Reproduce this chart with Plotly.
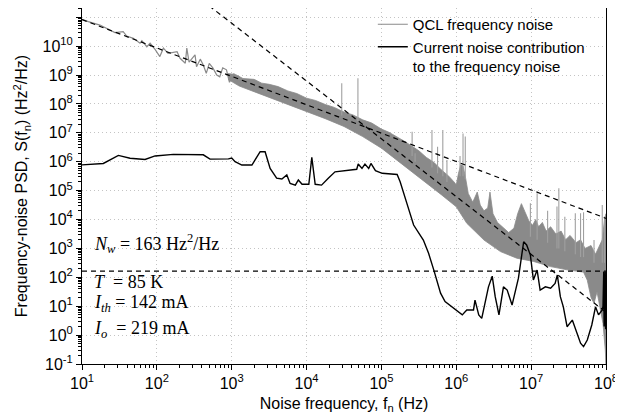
import numpy as np
import plotly.graph_objects as go

# ---------------- data (log10 of Hz, log10 of Hz^2/Hz) ----------------
# QCL frequency noise: low-frequency resolved part
qcl_lf_logf = [1.0, 1.084, 1.24, 1.44, 1.55, 1.597, 1.686, 1.775, 1.80, 1.866, 1.91, 1.976,
               2.04, 2.087, 2.15, 2.27, 2.31, 2.38, 2.40, 2.43, 2.51, 2.53, 2.58, 2.62, 2.66,
               2.70, 2.75, 2.80, 2.84, 2.88, 2.93, 2.97, 3.0, 3.03, 3.06, 3.09, 3.12]
qcl_lf_logs = [10.93, 10.85, 10.73, 10.47, 10.50, 10.35, 10.27, 10.10, 10.19, 9.98, 10.10, 9.89,
               9.64, 9.93, 9.75, 9.81, 9.58, 9.41, 9.93, 9.45, 9.70, 9.29, 9.55, 9.35, 9.06,
               9.40, 9.24, 9.00, 8.94, 9.25, 9.18, 8.75, 8.90, 9.05, 8.70, 8.95, 8.65]
# QCL frequency noise: dense band (upper and lower envelopes)
band_up_logf = [2.95, 3.05, 3.15, 3.3, 3.4, 3.5, 3.62, 3.75, 3.87, 4.0, 4.12, 4.25, 4.37, 4.5,
                4.62, 4.75, 4.87, 5.0, 5.1, 5.2, 5.3, 5.4, 5.5, 5.6, 5.7, 5.8, 5.9, 5.97,
                6.0, 6.03, 6.06, 6.09, 6.12, 6.16, 6.22, 6.28, 6.32, 6.37, 6.42, 6.45, 6.49,
                6.55, 6.62, 6.7, 6.77, 6.82, 6.87, 6.92, 6.97, 7.02, 7.06, 7.1, 7.15, 7.2,
                7.26, 7.33, 7.4, 7.46, 7.52, 7.6, 7.66, 7.72, 7.8, 7.86, 7.9, 7.95, 7.98, 8.0]
band_up_logs = [9.05, 9.02, 8.88, 8.85, 8.72, 8.68, 8.60, 8.45, 8.36, 8.2, 8.12, 7.98, 7.88, 7.72,
                7.62, 7.45, 7.34, 7.13, 7.02, 6.88, 6.72, 6.55, 6.38, 6.15, 5.98, 5.72, 5.5, 5.3,
                5.2, 5.6, 5.9, 5.85, 5.5, 4.9, 4.6, 4.95, 4.5, 4.3, 4.4, 4.95, 4.2,
                3.9, 3.75, 3.55, 3.7, 4.2, 4.55, 4.25, 3.95, 3.8, 4.0, 3.75, 3.9, 3.6,
                3.75, 3.5, 3.6, 3.3, 3.45, 3.2, 3.3, 3.0, 3.1, 2.8, 3.0, 3.3, 4.0, 4.2]
band_lo_logf = [2.95, 3.1, 3.3, 3.5, 3.75, 4.0, 4.25, 4.5, 4.75, 5.0, 5.2, 5.4, 5.6, 5.8, 6.0,
                6.14, 6.37, 6.59, 6.81, 7.03, 7.26, 7.48, 7.7, 7.75, 7.8, 7.84, 7.88, 7.92,
                7.96, 7.99, 8.0]
band_lo_logs = [8.85, 8.62, 8.42, 8.22, 7.98, 7.74, 7.49, 7.22, 6.87, 6.47, 6.06, 5.66, 5.26, 4.86, 4.44,
                3.87, 3.29, 2.89, 2.66, 2.55, 2.37, 2.26, 2.18, 1.9, 1.3, 1.1, 1.5, 0.9,
                0.4, -0.5, -1.0]
# narrow spikes of the QCL spectrum: frequency, base, top
spike_logf = [4.47, 4.686, 5.41, 5.45, 5.675, 5.75, 5.82, 5.875, 6.05, 6.09, 6.12, 6.99, 7.08,
              7.22, 7.345, 7.37, 7.45, 7.59, 7.66, 7.70, 7.84, 7.95, 7.98]
spike_base = [7.6, 7.4, 6.2, 6.0, 5.8, 5.6, 5.5, 5.3, 5.5, 5.5, 5.4, 3.4, 3.3,
              3.2, 3.0, 3.0, 2.9, 2.8, 2.7, 2.7, 2.5, 2.5, 2.5]
spike_top = [8.72, 8.89, 7.04, 6.29, 7.10, 6.52, 7.10, 6.06, 6.2, 6.98, 6.87, 4.56, 4.91,
             4.3, 4.45, 5.08, 4.1, 4.22, 4.22, 4.25, 3.29, 4.5, 4.1]
# current noise contribution to the frequency noise
cur_logf = [1.0, 1.285, 1.486, 1.642, 1.842, 1.976, 2.22, 2.62, 2.71, 2.956, 3.0, 3.045, 3.135,
            3.27, 3.38, 3.446, 3.513, 3.60, 3.67, 3.736, 3.78, 3.85, 3.89, 3.94, 4.03, 4.07,
            4.115, 4.2, 4.29, 4.38, 4.67, 4.69, 4.74, 4.78, 4.83, 4.86, 4.92, 5.01, 5.21,
            5.25, 5.34, 5.43, 5.56, 5.63, 5.70, 5.74, 5.79, 5.85, 5.94, 5.99, 6.08, 6.14,
            6.23, 6.25, 6.30, 6.34, 6.43, 6.48, 6.52, 6.57, 6.63, 6.68, 6.745, 6.83, 6.90,
            6.94, 6.99, 7.03, 7.08, 7.12, 7.19, 7.26, 7.32, 7.35, 7.39, 7.43, 7.48, 7.55,
            7.59, 7.66, 7.70, 7.75, 7.81, 7.86, 7.90, 7.95, 7.96, 7.97, 7.975, 7.98, 7.985,
            7.99, 7.995, 8.0]
cur_logs = [5.89, 5.94, 6.22, 6.12, 6.08, 6.20, 6.256, 6.24, 6.09, 6.10, 6.13, 6.0, 5.886,
            5.886, 6.346, 6.346, 5.77, 5.43, 5.40, 5.54, 5.25, 5.19, 5.37, 5.22, 5.22, 6.15,
            5.22, 5.19, 5.43, 5.65, 5.74, 5.92, 5.77, 5.92, 5.77, 5.94, 5.69, 5.60, 5.56,
            5.31, 4.56, 3.81, 3.29, 2.83, 2.25, 1.91, 1.45, 1.16, 0.98, 0.87, 0.70, 0.87,
            0.87, 1.21, 0.70, 0.58, 1.67, 2.04, 1.33, 0.70, 1.67, 1.56, 1.04, 1.97, 3.23,
            3.12, 2.77, 1.91, 2.25, 1.56, 1.67, 1.62, 1.79, 2.08, 1.33, 0.98, 0.29, 0.52,
            0.235, -0.28, -0.40, -0.17, 0.35, 0.98, 0.70, 0.87, 1.0, 2.2, 0.3, 2.0, 0.5,
            2.2, 0.2, 1.5]
# fitted lines
flicker_f = [1e1, 1e8]
flicker_s = [8.3e10, 1.1e4]
steep_f = [5e2, 1e8]
steep_s = [2.48e11, 6.2]
white_f = [1e1, 1e8]
white_s = [163, 163]

x_tickvals = [10.0 ** p for p in range(1, 9)]
x_ticktext = ["10<sup>%d</sup>" % p for p in range(1, 9)]
y_tickvals = [10.0 ** p for p in range(-1, 12)]
y_ticktext = ["10<sup>%d</sup>" % p for p in range(-1, 12)]

# ---------------- figure ----------------
P = lambda a: np.power(10.0, np.asarray(a, dtype=float))
GRAY = "#8a8a8a"

fig = go.Figure()

band_x = np.concatenate([P(band_up_logf), P(band_lo_logf)[::-1]])
band_y = np.concatenate([P(band_up_logs), P(band_lo_logs)[::-1]])
fig.add_trace(go.Scatter(x=band_x, y=band_y, mode="lines", fill="toself",
                         fillcolor=GRAY, line=dict(color=GRAY, width=0.8),
                         showlegend=False, hoverinfo="skip"))

sx, sy = [], []
for f, b, t in zip(spike_logf, spike_base, spike_top):
    sx += [10 ** f, 10 ** f, None]
    sy += [10 ** b, 10 ** t, None]
fig.add_trace(go.Scatter(x=sx, y=sy, mode="lines", line=dict(color="#a0a0a0", width=1.1),
                         showlegend=False, hoverinfo="skip"))

fig.add_trace(go.Scatter(x=P(qcl_lf_logf), y=P(qcl_lf_logs), mode="lines",
                         line=dict(color=GRAY, width=1.2), name="QCL frequency noise"))

for fx, fy in [(flicker_f, flicker_s), (steep_f, steep_s), (white_f, white_s)]:
    fig.add_trace(go.Scatter(x=fx, y=fy, mode="lines",
                             line=dict(color="black", width=1.2, dash="5px,4px"),
                             showlegend=False, hoverinfo="skip"))

fig.add_trace(go.Scatter(x=P(cur_logf), y=P(cur_logs), mode="lines",
                         line=dict(color="black", width=1.4),
                         name="Current noise contribution<br>to the frequency noise"))

axis_common = dict(type="log", showline=True, linecolor="black", linewidth=1, mirror=True,
                   ticks="outside", ticklen=5, tickcolor="black", tickmode="array",
                   showgrid=True, gridcolor="#c4c4c4", griddash="1px,3px", gridwidth=1,
                   zeroline=False, automargin=False,
                   tickfont=dict(family="Liberation Sans, Arial", size=16, color="black"),
                   minor=dict(ticks="outside", ticklen=3, tickcolor="black", dtick="D1", showgrid=False))

fig.update_xaxes(range=[1, 8], tickvals=x_tickvals, ticktext=x_ticktext,
                 title=dict(text="Noise frequency, f<sub>n</sub> (Hz)", standoff=6,
                            font=dict(family="Liberation Sans, Arial", size=16, color="black")),
                 **axis_common)
fig.update_yaxes(range=[-1, 11.32], tickvals=y_tickvals, ticktext=y_ticktext,
                 title=dict(text="Frequency-noise PSD, S(f<sub>n</sub>) (Hz<sup>2</sup>/Hz)", standoff=10,
                            font=dict(family="Liberation Sans, Arial", size=16, color="black")),
                 **axis_common)

serif = dict(family="Liberation Serif, Times New Roman", size=18, color="black")
ann = [
    ("<i>N</i><sub><i>w</i></sub> = 163 Hz<sup>2</sup>/Hz", 262),
    ("<i>T</i>\u00a0 = 85 K", 298),
    ("<i>I</i><sub><i>th</i></sub> = 142 mA", 321),
    ("<i>I</i><sub><i>o</i></sub>\u00a0 = 219 mA", 347),
]
for txt, base in ann:
    fig.add_annotation(text=txt, xref="paper", yref="paper", x=(92 - 82) / 523.6,
                       y=(364 - base + 4) / 356.0, xanchor="left", yanchor="bottom",
                       showarrow=False, font=serif)

# the page body adds an 8px offset, so the figure is 8px smaller and margins shifted
fig.update_layout(
    width=615, height=412,
    margin=dict(l=74, r=17, t=0, b=56),
    plot_bgcolor="white", paper_bgcolor="white",
    legend=dict(x=0.555, y=1.0, xanchor="left", yanchor="top", bgcolor="rgba(0,0,0,0)",
                font=dict(family="Liberation Sans, Arial", size=15, color="black"),
                valign="top", tracegroupgap=0, itemwidth=30),
)

fig.write_html("out.html")
